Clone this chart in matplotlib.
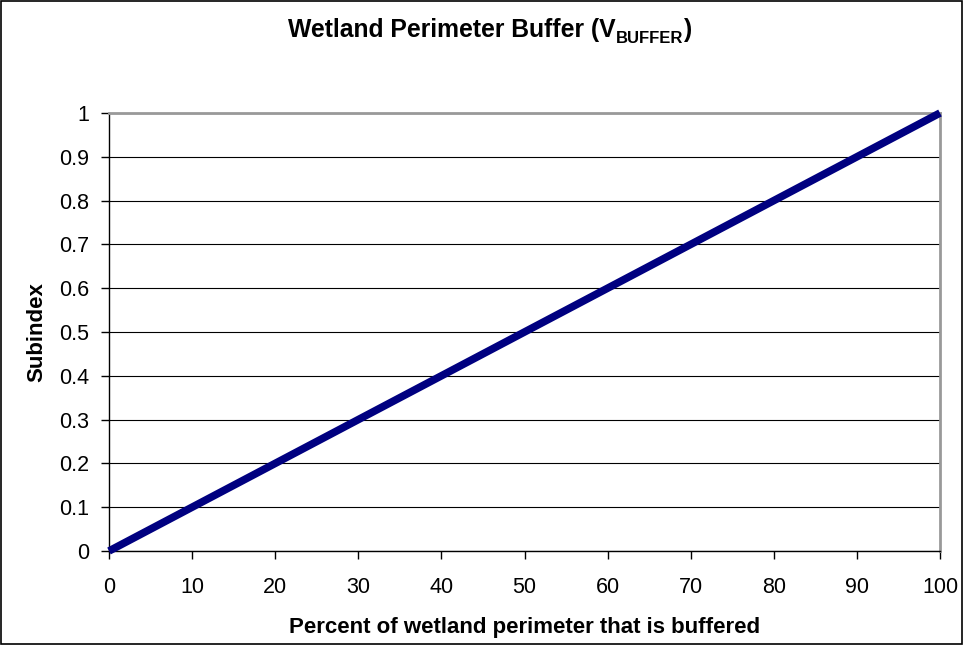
import matplotlib
matplotlib.use("Agg")
import matplotlib.pyplot as plt
from matplotlib.patches import Rectangle

x_vals = [0, 100]
y_vals = [0, 1]
x_ticks = [0, 10, 20, 30, 40, 50, 60, 70, 80, 90, 100]
y_ticks = [0, 0.1, 0.2, 0.3, 0.4, 0.5, 0.6, 0.7, 0.8, 0.9, 1]
y_tick_labels = ["0", "0.1", "0.2", "0.3", "0.4", "0.5", "0.6", "0.7", "0.8", "0.9", "1"]

plt.rcParams['font.family'] = ['Liberation Sans', 'DejaVu Sans']

fig = plt.figure(figsize=(9.63, 6.45), dpi=100)
fig.patches.append(Rectangle((0.0008, 0.001), 0.9984, 0.998, transform=fig.transFigure,
                             fill=False, edgecolor='black', linewidth=1.2))
ax = fig.add_axes([109/963, 1-551/645, (940-109)/963, (551-113)/645])

ax.set_xlim(0, 100)
ax.set_ylim(0, 1)
ax.set_xticks(x_ticks)
ax.set_xticklabels([str(t) for t in x_ticks], fontsize=15.5)
ax.set_yticks(y_ticks)
ax.set_yticklabels(y_tick_labels, fontsize=15.5)
ax.yaxis.grid(True, color='black', linewidth=0.8)
ax.set_axisbelow(True)
ax.tick_params(axis='x', direction='out', length=6, width=1, color='black', pad=13)
ax.tick_params(axis='y', direction='out', length=6, width=1, color='black', pad=8)

for s in ['top', 'right']:
    ax.spines[s].set_color('#999999')
    ax.spines[s].set_linewidth(2)
for s in ['left', 'bottom']:
    ax.spines[s].set_color('black')
    ax.spines[s].set_linewidth(1)

ax.plot(x_vals, y_vals, color='#000080', linewidth=5.5, solid_capstyle='butt', clip_on=False, zorder=3)

ax.set_xlabel("Percent of wetland perimeter that is buffered", fontsize=16, fontweight='bold')
ax.xaxis.set_label_coords(0.5, (1 - 627/645 - (1-551/645)) / ((551-113)/645), transform=ax.transAxes)
ax.xaxis.label.set_va('center')
ax.set_ylabel("Subindex", fontsize=16, fontweight='bold')
ax.yaxis.set_label_coords((37-109)/(940-109), 0.5)
ax.yaxis.label.set_va('center')

# Title built from pieces so the subscript is bold
base_y = 1 - 37/645
t1 = fig.text(0, base_y, "Wetland Perimeter Buffer (V", fontsize=17.8, fontweight='bold', va='baseline')
t2 = fig.text(0, base_y - 6/645, "BUFFER", fontsize=12, fontweight='bold', va='baseline')
t3 = fig.text(0, base_y, ")", fontsize=17.8, fontweight='bold', va='baseline')
fig.canvas.draw()
r = fig.canvas.get_renderer()
w1 = t1.get_window_extent(r).width
w2 = t2.get_window_extent(r).width
x0 = 288
t1.set_x(x0 / 963)
t2.set_x((x0 + w1) / 963)
t3.set_x((x0 + w1 + w2) / 963)

fig.savefig("out.png", dpi=100)
